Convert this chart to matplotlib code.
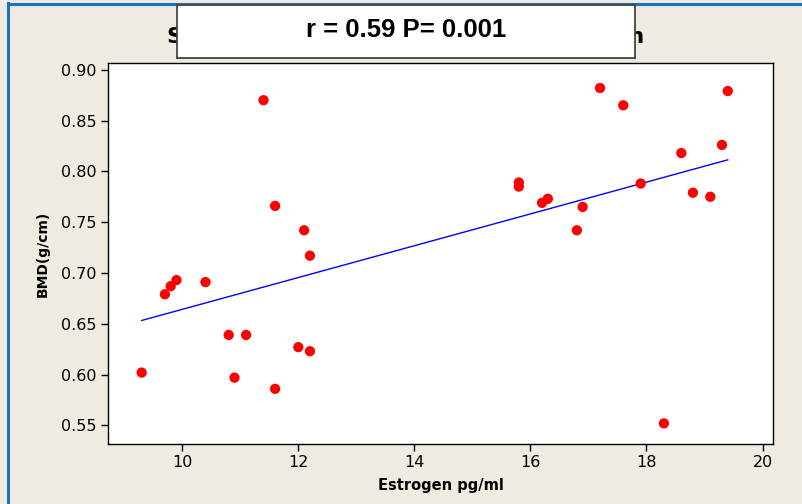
import matplotlib
matplotlib.use('Agg')
import matplotlib.pyplot as plt
import numpy as np

# Estrogen (pg/ml) vs BMD (g/cm)
estrogen = [9.3, 9.7, 9.8, 9.9, 10.4, 10.8, 10.9, 11.1, 11.4, 11.6, 11.6,
            12.1, 12.0, 12.2, 12.2,
            15.8, 15.8, 16.2, 16.3, 16.9, 16.8, 17.2, 17.6, 17.9, 18.6,
            18.8, 19.1, 19.3, 19.4, 18.3]
bmd = [0.602, 0.679, 0.687, 0.693, 0.691, 0.639, 0.597, 0.639, 0.870, 0.766, 0.586,
       0.742, 0.627, 0.717, 0.623,
       0.789, 0.785, 0.769, 0.773, 0.765, 0.742, 0.882, 0.865, 0.788, 0.818,
       0.779, 0.775, 0.826, 0.879, 0.552]

title = "Scatterplot of BMD(g/cm) vs Estrogen"
stats_text = "r = 0.59 P= 0.001"
xticks = [10, 12, 14, 16, 18, 20]
yticks = [0.55, 0.60, 0.65, 0.70, 0.75, 0.80, 0.85, 0.90]

bg = '#efebe1'
fig = plt.figure(figsize=(8.03, 5.04), dpi=100, facecolor=bg)
W, H = 803, 504
ax = fig.add_axes([108 / W, 1 - 444 / H, (773 - 108) / W, (444 - 63) / H])
ax.set_facecolor('white')

x = np.array(estrogen)
y = np.array(bmd)
slope, intercept = np.polyfit(x, y, 1)
xf = np.array([x.min(), x.max()])
ax.plot(xf, intercept + slope * xf, color='#0000ff', lw=1.0, zorder=2)
ax.scatter(x, y, s=55, color='#ff0000', edgecolors='none', zorder=3)

ax.set_xlim(8.72, 20.18)
ax.set_ylim(0.5317, 0.9066)
ax.set_xticks(xticks)
ax.set_xticklabels([str(t) for t in xticks])
ax.set_yticks(yticks)
ax.set_yticklabels(['%.2f' % t for t in yticks])
ax.tick_params(direction='out', length=5, width=1, labelsize=11.5, pad=3)
for s in ax.spines.values():
    s.set_linewidth(1.0)
    s.set_color('black')

ax.set_xlabel("Estrogen pg/ml", fontsize=10.5, fontweight='bold', labelpad=6)
ax.set_ylabel("BMD(g/cm)", fontsize=10, fontweight='bold', labelpad=8)

# title, mostly hidden behind the stats box
fig.text(406 / W, 1 - 37 / H, title, ha='center', va='center',
         fontsize=16.1, fontweight='bold', family='DejaVu Sans', zorder=1)

# stats box
box = fig.add_axes([177 / W, 1 - 58 / H, (635 - 177) / W, (58 - 5) / H])
box.set_zorder(10)
box.set_facecolor('white')
box.set_xticks([])
box.set_yticks([])
for s in box.spines.values():
    s.set_color('#444444')
    s.set_linewidth(1.3)
box.text(0.5, 0.52, stats_text, transform=box.transAxes, ha='center', va='center',
         fontsize=18.5, fontweight='bold', family='Liberation Sans')

# window border lines
fig.add_artist(plt.Line2D([8 / W, 8 / W], [0, 1 - 3 / H], color='#1a73c4', lw=2.2))
fig.add_artist(plt.Line2D([8 / W, 1], [1 - 3.5 / H, 1 - 3.5 / H], color='#1a73c4', lw=2.2))

plt.savefig('out.png', dpi=100, facecolor=bg)
